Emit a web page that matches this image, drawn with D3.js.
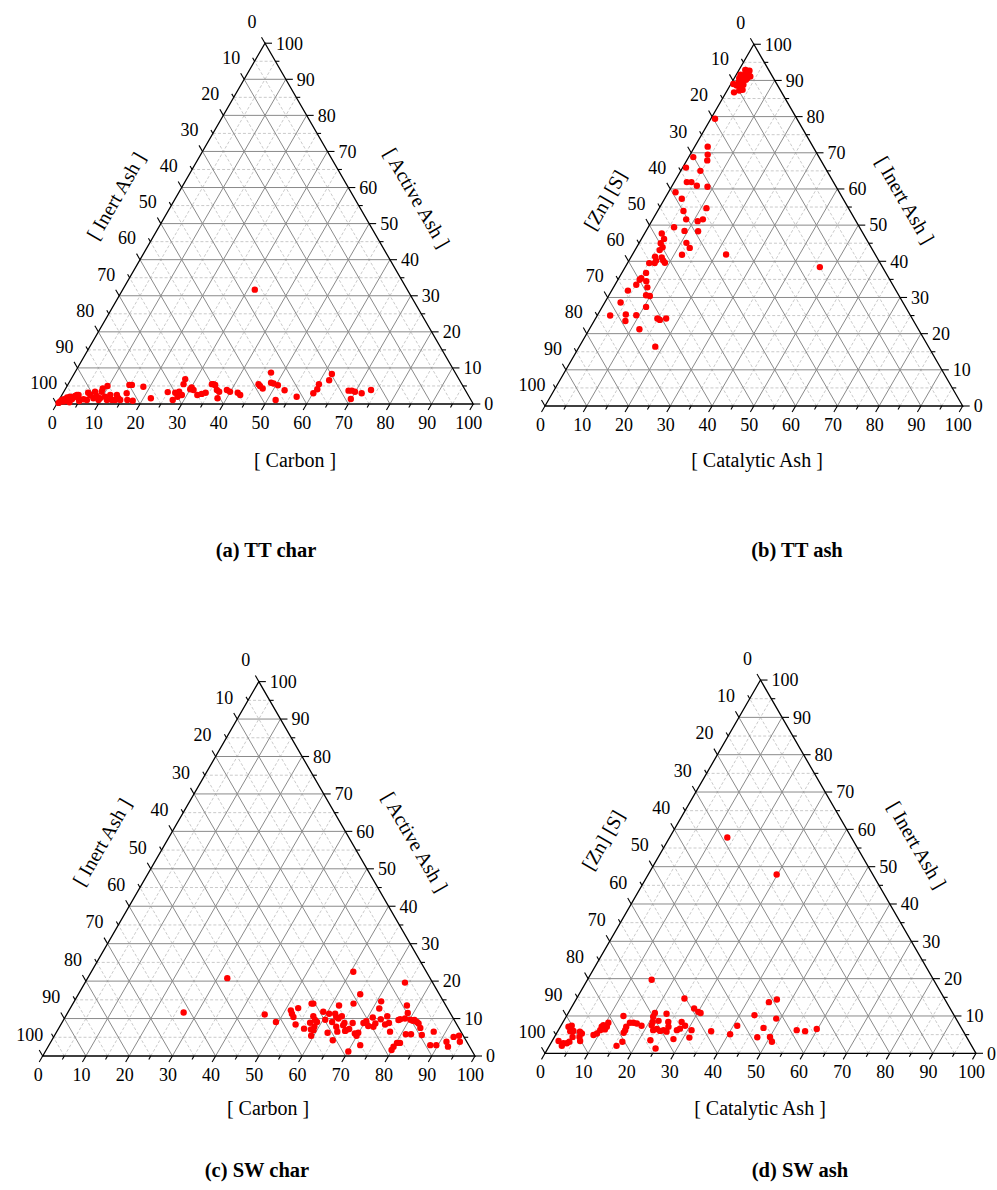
<!DOCTYPE html>
<html>
<head>
<meta charset="utf-8">
<script src="https://cdn.jsdelivr.net/npm/d3@7"></script>
<style>
  body { margin: 0; background: #fff; }
  svg text { font-family: "Liberation Serif", "Times New Roman", serif; fill: #000; }
</style>
</head>
<body>
<svg id="chart" width="997" height="1190"></svg>
<script>
// TT char: [Carbon, Active Ash]; Inert Ash = 100 - Carbon - Active Ash
const ttChar = [
  [0.7,1.1],[1.1,1.3],[1.9,0.9],[2.5,1.1],[3.0,1.3],[3.1,1.8],[3.3,2.2],[3.6,2.5],[4.0,2.5],[1.3,0.7],[0.5,0.7],
  [1.6,1.8],[2.2,2.0],[0.3,0.3],[2.8,0.5],[4.5,1.5],[5.0,0.8],
  [5.8,1.3],[6.7,1.1],[6.0,3.1],[6.8,2.5],[8.0,1.6],[7.5,3.4],[8.5,2.2],[9.5,1.1],[9.6,1.6],[9.1,3.4],[8.9,4.3],
  [10.6,2.0],[11.5,1.1],[9.7,5.0],[11.6,2.5],[12.7,1.1],[13.5,1.1],[13.2,2.5],[14.0,1.6],[14.7,1.1],[15.3,3.0],
  [16.4,1.1],[14.8,5.3],[15.4,5.3],[17.8,0.9],[18.4,4.8],[21.8,1.6],
  [25.0,3.3],[27.3,1.1],[26.9,3.1],[28.0,2.0],[27.7,3.4],[28.8,2.5],[27.7,5.5],[27.4,6.9],[30.0,4.1],[30.1,4.6],
  [30.9,3.9],[32.5,2.5],[33.4,2.8],[34.2,3.1],[34.5,5.5],[34.9,5.5],[35.4,5.3],[36.5,3.9],[37.8,1.6],[37.3,3.4],
  [38.9,3.9],[39.9,3.4],[41.9,3.1],[42.8,2.5],
  [45.7,5.5],[46.3,5.0],[47.3,4.3],[47.1,8.7],[48.5,5.9],[49.2,5.7],[52.0,1.1],[50.5,5.2],[52.8,3.8],[56.6,2.0],
  [60.1,3.0],[60.5,4.1],[60.2,5.5],[62.1,6.6],[61.9,8.3],[68.2,3.7],[69.0,3.7],[69.9,3.4],[69.9,1.4],[71.7,3.0],[73.5,3.9],
  [31.7,31.7]
];

// TT ash: [Catalytic Ash, Inert Ash]; [Zn][S] = remainder
const ttAsh = [
  [1.9,86.7],[2.9,87.2],[3.6,87.4],[2.8,88.3],[1.6,88.6],[0.6,89.0],[1.6,89.5],[3.1,88.8],[3.0,90.2],[2.0,90.2],
  [3.1,90.6],[2.0,91.1],[2.1,91.7],[2.7,92.0],[2.0,92.7],[2.6,92.7],[1.5,92.9],[1.0,91.6],[3.6,91.1],[1.2,90.6],
  [1.0,79.4],[3.1,71.7],[4.2,69.5],[4.9,67.9],[1.1,68.8],[0.8,65.9],[4.7,65.0],[3.0,61.9],[4.1,61.9],[5.9,60.9],
  [8.6,60.6],[1.7,59.1],[4.1,57.3],[11.3,54.7],[6.2,53.9],[8.0,51.6],[11.0,51.1],[12.0,51.6],[6.2,49.4],[9.2,48.4],
  [12.5,48.3],[4.1,47.7],[5.4,46.2],[5.2,45.0],[11.3,45.1],[6.2,43.9],[12.8,43.7],[5.9,43.1],[11.9,41.8],[22.4,41.9],
  [5.7,41.3],[7.4,41.1],[6.5,40.2],[8.2,40.2],[8.9,39.6],[5.2,39.5],[6.5,39.5],[5.8,36.8],[46.6,38.4],[5.4,35.3],
  [5.2,34.9],[7.0,34.5],[5.1,33.5],[8.1,32.8],[3.9,31.9],[8.9,30.6],[9.9,30.4],[3.8,28.6],[10.5,27.4],[3.1,25.0],
  [6.7,25.3],[9.3,25.1],[7.5,23.5],[14.8,24.2],[15.6,23.8],[16.9,24.2],[12.0,21.2],[18.2,16.4]
];

// SW char: [Carbon, Active Ash]
const swChar = [
  [32.3,20.8],[26.8,11.6],[45.8,11.1],[49.4,9.1],[60.6,22.5],[74.0,19.6],[65.2,16.5],[55.2,14.0],[55.6,14.0],[51.3,12.2],
  [52.0,11.3],[52.7,12.8],[52.8,10.4],[54.3,8.4],[56.8,7.3],[57.4,8.9],[57.3,10.6],[58.2,9.6],[58.9,9.1],[58.5,7.1],
  [59.2,6.9],[59.4,5.4],[59.0,11.8],[60.5,9.7],[62.8,6.2],[60.6,11.3],[62.4,9.1],[65.0,4.2],[62.0,11.3],[64.0,7.8],
  [63.4,10.0],[61.8,13.5],[63.9,10.6],[65.4,8.2],[66.6,6.7],[65.4,8.8],[67.3,7.2],[67.3,8.8],[64.9,14.0],[69.2,6.0],
  [69.9,5.4],[69.9,6.2],[72.0,2.9],[70.1,1.2],[69.8,8.8],[70.2,9.3],[71.3,8.0],[71.2,10.3],[72.6,7.8],[72.6,8.7],
  [71.5,12.7],[73.3,9.8],[71.0,14.6],[75.0,8.4],[74.4,10.6],[75.7,8.8],[77.1,6.5],[79.9,1.6],[79.9,2.5],[80.2,3.5],
  [80.9,3.5],[77.5,9.6],[77.8,9.8],[78.8,10.0],[81.1,5.8],[77.5,13.5],[78.7,11.5],[82.3,5.8],[80.2,9.7],[81.2,9.6],
  [82.0,9.1],[82.6,8.7],[83.6,7.5],[84.9,5.6],[88.2,2.9],[87.2,6.5],[89.6,2.9],[91.5,3.8],[92.5,2.5],[92.5,5.1],
  [93.6,5.4],[94.6,3.8],[62.7,10.4],[64.9,6.5],[66.7,6.9],[80.9,9.4],[58.9,7.9]
];

// SW ash: [Catalytic Ash, Inert Ash]
const swAsh = [
  [13.4,57.8],[29.8,47.9],[14.9,19.7],[25.0,14.7],[28.6,12.0],[30.0,11.1],[30.7,10.8],[45.1,13.7],[46.6,14.4],[43.5,10.2],
  [49.0,9.3],[47.3,6.8],[47.1,4.3],[50.0,4.4],[51.1,3.1],[55.3,6.2],[57.4,5.9],[59.8,6.5],[40.9,7.4],[40.4,5.1],
  [35.6,5.9],[30.9,6.2],[31.4,4.2],[28.8,7.4],[27.5,8.4],[28.0,6.6],[27.5,6.2],[27.9,3.8],[22.9,10.6],[24.4,8.4],
  [25.1,7.1],[25.3,5.8],[24.4,6.2],[23.7,6.0],[22.7,6.5],[22.0,8.7],[20.1,10.8],[20.2,9.8],[20.8,8.4],[21.0,7.5],
  [22.0,6.2],[22.7,3.5],[25.0,1.3],[18.7,7.4],[17.3,8.0],[16.4,8.2],[15.6,8.2],[13.2,10.0],[15.3,7.1],[15.5,6.2],
  [15.5,5.5],[16.4,3.1],[15.6,2.0],[10.6,8.2],[10.8,7.1],[10.7,6.4],[9.6,7.1],[9.7,6.2],[9.4,5.3],[8.8,4.9],
  [9.8,7.5],[5.2,5.8],[5.9,5.3],[5.8,4.4],[6.5,3.3],[4.2,4.4],[2.9,5.9],[1.9,7.1],[2.5,7.4],[3.6,6.0],
  [1.5,3.3],[2.9,2.0],[2.9,2.7],[3.7,2.7],[4.1,3.1]
];

const majorTicks = d3.range(0, 101, 10);
const minorTicks = d3.range(5, 100, 10);

const panels = [
  { data: ttChar, bottom: "[ Carbon ]", left: "[ Inert Ash ]", right: "[ Active Ash ]", caption: "(a) TT char",
    x0: 56.7, y0: 404, side: 416.6, bottomTitle: [295, 467], leftTitle: [116, 196], rightTitle: [417, 198], captionAt: [266, 557] },
  { data: ttAsh, bottom: "[ Catalytic Ash ]", left: "[Zn] [S]", right: "[ Inert Ash ]", caption: "(b) TT ash",
    x0: 545, y0: 406, side: 417.7, bottomTitle: [757, 467], leftTitle: [605, 200], rightTitle: [905, 200], captionAt: [797, 557] },
  { data: swChar, bottom: "[ Carbon ]", left: "[ Inert Ash ]", right: "[ Active Ash ]", caption: "(c) SW char",
    x0: 42.7, y0: 1056, side: 432.3, bottomTitle: [268, 1115], leftTitle: [102, 842], rightTitle: [415, 842], captionAt: [257, 1177] },
  { data: swAsh, bottom: "[ Catalytic Ash ]", left: "[Zn] [S]", right: "[ Inert Ash ]", caption: "(d) SW ash",
    x0: 545, y0: 1053.3, side: 431, bottomTitle: [760, 1115], leftTitle: [603, 840], rightTitle: [917, 845], captionAt: [800, 1177] }
];

const svg = d3.select("#chart");
const SIN60 = Math.sqrt(3) / 2;

function drawPanel(p) {
  const g = svg.append("g");
  const h = p.side * SIN60;
  const x = d3.scaleLinear().domain([0, 100]).range([p.x0, p.x0 + p.side]);
  const y = d3.scaleLinear().domain([0, 100]).range([p.y0, p.y0 - h]);
  // b: bottom-axis value, r: right-axis value (height)
  const pos = (b, r) => [x(b + r / 2), y(r)];
  const line = d3.line();

  const gridSegs = vals => {
    const segs = [];
    vals.filter(v => v > 0 && v < 100).forEach(v => {
      segs.push([pos(0, v), pos(100 - v, v)]);       // constant right-axis value
      segs.push([pos(v, 0), pos(v, 100 - v)]);       // constant bottom-axis value
      segs.push([pos(100 - v, 0), pos(0, 100 - v)]); // constant left-axis value
    });
    return segs;
  };

  g.append("g").selectAll("path").data(gridSegs(minorTicks)).join("path")
    .attr("d", line).attr("stroke", "#bdbdbd").attr("stroke-width", 0.8)
    .attr("stroke-dasharray", "3,2").attr("fill", "none");
  g.append("g").selectAll("path").data(gridSegs(majorTicks)).join("path")
    .attr("d", line).attr("stroke", "#8a8a8a").attr("stroke-width", 1).attr("fill", "none");

  // triangle frame
  g.append("path")
    .attr("d", line([pos(0, 0), pos(100, 0), pos(0, 100)]) + "Z")
    .attr("fill", "none").attr("stroke", "#000").attr("stroke-width", 1.3);

  // tick marks: bottom ticks point down-left, left ticks up-left, right ticks rightward
  const dirs = {
    bottom: [-0.5, SIN60],
    left: [-0.5, -SIN60],
    right: [1, 0]
  };
  const anchorOf = {
    bottom: v => pos(v, 0),
    left: v => pos(0, 100 - v),
    right: v => pos(100 - v, v)
  };
  const ticks = [];
  ["bottom", "left", "right"].forEach(side => {
    majorTicks.forEach(v => ticks.push({ side, v, len: 7 }));
    minorTicks.forEach(v => ticks.push({ side, v, len: 4 }));
  });
  g.append("g").selectAll("path").data(ticks).join("path")
    .attr("d", t => {
      const [px, py] = anchorOf[t.side](t.v);
      const [dx, dy] = dirs[t.side];
      return line([[px, py], [px + dx * t.len, py + dy * t.len]]);
    })
    .attr("stroke", "#000").attr("stroke-width", 1.1);

  const labels = g.append("g").attr("font-size", 18);
  labels.selectAll("text.b").data(majorTicks).join("text").attr("class", "b")
    .attr("x", v => anchorOf.bottom(v)[0] - 4.5)
    .attr("y", v => anchorOf.bottom(v)[1] + 25)
    .attr("text-anchor", "middle").text(v => v);
  labels.selectAll("text.l").data(majorTicks).join("text").attr("class", "l")
    .attr("x", v => anchorOf.left(v)[0] - 13)
    .attr("y", v => anchorOf.left(v)[1] - 21.5)
    .attr("dy", "0.35em")
    .attr("text-anchor", "middle").text(v => v);
  labels.selectAll("text.r").data(majorTicks).join("text").attr("class", "r")
    .attr("x", v => anchorOf.right(v)[0] + 11)
    .attr("y", v => anchorOf.right(v)[1])
    .attr("dy", "0.35em")
    .attr("text-anchor", "start").text(v => v);

  // axis titles
  g.append("text").attr("x", p.bottomTitle[0]).attr("y", p.bottomTitle[1])
    .attr("text-anchor", "middle").attr("font-size", 20).text(p.bottom);
  g.append("text").attr("transform", `translate(${p.leftTitle[0]},${p.leftTitle[1]}) rotate(-60)`)
    .attr("text-anchor", "middle").attr("dy", "0.35em").attr("font-size", 20).text(p.left);
  g.append("text").attr("transform", `translate(${p.rightTitle[0]},${p.rightTitle[1]}) rotate(60)`)
    .attr("text-anchor", "middle").attr("dy", "0.35em").attr("font-size", 20).text(p.right);

  // data points
  g.append("g").selectAll("circle").data(p.data).join("circle")
    .attr("cx", d => pos(d[0], d[1])[0])
    .attr("cy", d => pos(d[0], d[1])[1])
    .attr("r", 3.2).attr("fill", "#ff0000");

  // caption
  g.append("text").attr("x", p.captionAt[0]).attr("y", p.captionAt[1])
    .attr("text-anchor", "middle").attr("font-size", 20.5).attr("font-weight", "bold")
    .text(p.caption);
}

panels.forEach(drawPanel);
</script>
</body>
</html>
